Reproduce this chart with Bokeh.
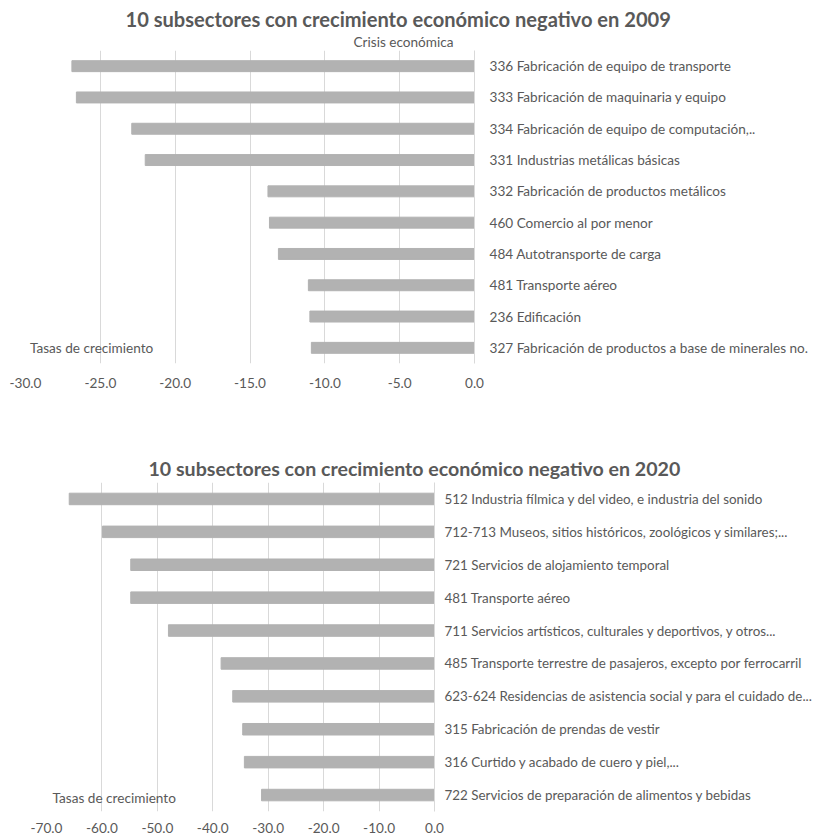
from bokeh.plotting import figure
from bokeh.models import FactorRange, FixedTicker, NumeralTickFormatter, Title, Range1d
from bokeh.core.properties import value
from bokeh.embed import file_html
from bokeh.resources import INLINE

# ---- data ----
cats_2009 = [
    "336 Fabricación de equipo de transporte",
    "333 Fabricación de maquinaria y equipo",
    "334 Fabricación de equipo de computación,..",
    "331 Industrias metálicas básicas",
    "332 Fabricación de productos metálicos",
    "460 Comercio al por menor",
    "484 Autotransporte de carga",
    "481 Transporte aéreo",
    "236 Edificación",
    "327 Fabricación de productos a base de minerales no.",
]
vals_2009 = [-26.9, -26.6, -22.9, -22.0, -13.8, -13.7, -13.1, -11.1, -11.0, -10.9]
ticks_2009 = [-30, -25, -20, -15, -10, -5, 0]

cats_2020 = [
    "512 Industria fílmica y del video, e industria del sonido",
    "712-713 Museos, sitios históricos, zoológicos y similares;...",
    "721 Servicios de alojamiento temporal",
    "481 Transporte aéreo",
    "711 Servicios artísticos, culturales y deportivos, y otros...",
    "485 Transporte terrestre de pasajeros, excepto por ferrocarril",
    "623-624 Residencias de asistencia social y para el cuidado de...",
    "315 Fabricación de prendas de vestir",
    "316 Curtido y acabado de cuero y piel,...",
    "722 Servicios de preparación de alimentos y bebidas",
]
vals_2020 = [-65.9, -59.9, -54.8, -54.8, -48.0, -38.5, -36.4, -34.6, -34.3, -31.2]
ticks_2020 = [-70, -60, -50, -40, -30, -20, -10, 0]

FONT = "Lato"
TXT = "#595959"
GRID = "#d9d9d9"
BAR = "#b2b2b2"
FS = "13.6px"


def make_chart(cats, vals, ticks, title, subtitle, xmin, frame_w, frame_h,
               border_left, border_top, border_bottom, border_right,
               standoff, x_standoff, cat_fs, title_offset, sub_offset, title_size,
               title_standoff, note_x, note_yoff):
    p = figure(
        output_backend="svg", toolbar_location=None,
        y_range=FactorRange(factors=list(reversed(cats)), range_padding=0),
        x_range=Range1d(xmin, 0),
        y_axis_location="right",
        frame_width=frame_w, frame_height=frame_h,
        min_border_left=border_left, min_border_top=border_top,
        min_border_bottom=border_bottom, min_border_right=border_right,
        background_fill_color="white", border_fill_color="white",
    )
    p.outline_line_color = None
    p.hbar(y=cats, right=vals, left=0, height=0.35, color=BAR)

    p.xgrid.grid_line_color = GRID
    p.xgrid.ticker = FixedTicker(ticks=ticks)
    p.ygrid.grid_line_color = None

    xa = p.xaxis[0]
    xa.ticker = FixedTicker(ticks=ticks)
    xa.formatter = NumeralTickFormatter(format="0.0")
    xa.axis_line_color = None
    xa.major_tick_line_color = None
    xa.minor_tick_line_color = None
    xa.major_tick_out = 0
    xa.minor_tick_out = 0
    xa.major_label_text_font = FONT
    xa.major_label_text_font_size = FS
    xa.major_label_text_color = TXT
    xa.major_label_standoff = x_standoff

    ya = p.yaxis[0]
    ya.axis_line_color = GRID
    ya.major_tick_line_color = None
    ya.minor_tick_line_color = None
    ya.major_tick_out = 0
    ya.minor_tick_out = 0
    ya.major_label_text_font = FONT
    ya.major_label_text_font_size = cat_fs
    ya.major_label_text_color = TXT
    ya.major_label_standoff = standoff

    if subtitle:
        p.add_layout(Title(text=subtitle, align="left", offset=sub_offset,
                           text_font=FONT, text_font_size=FS,
                           text_font_style="normal", text_color=TXT,
                           standoff=2), "above")
    p.add_layout(Title(text=title, align="left", offset=title_offset,
                       text_font=FONT, text_font_size=title_size,
                       text_font_style="bold", text_color=TXT,
                       standoff=title_standoff), "above")

    p.text(x=[note_x], y=[cats[-1]], text=["Tasas de crecimiento"],
           text_font=value(FONT), text_font_size=FS, text_color=TXT,
           text_align="left", text_baseline="middle", y_offset=note_yoff)
    return p


p1 = make_chart(cats_2009, vals_2009, ticks_2009,
                "10 subsectores con crecimiento económico negativo en 2009",
                "Crisis económica", -30, 449, 313,
                25, 50, 57, 342, 15, 14, "13.6px", 100, 328, "20.1px", 0, -29.7, 0)
p2 = make_chart(cats_2020, vals_2020, ticks_2020,
                "10 subsectores con crecimiento económico negativo en 2020",
                None, -70, 388, 329,
                46, 62, 27, 382, 10, 11, "13.4px", 102, 0, "19.6px", 5, -68.9, 3)

open("out.html", "w").write(file_html([p1, p2], INLINE))
